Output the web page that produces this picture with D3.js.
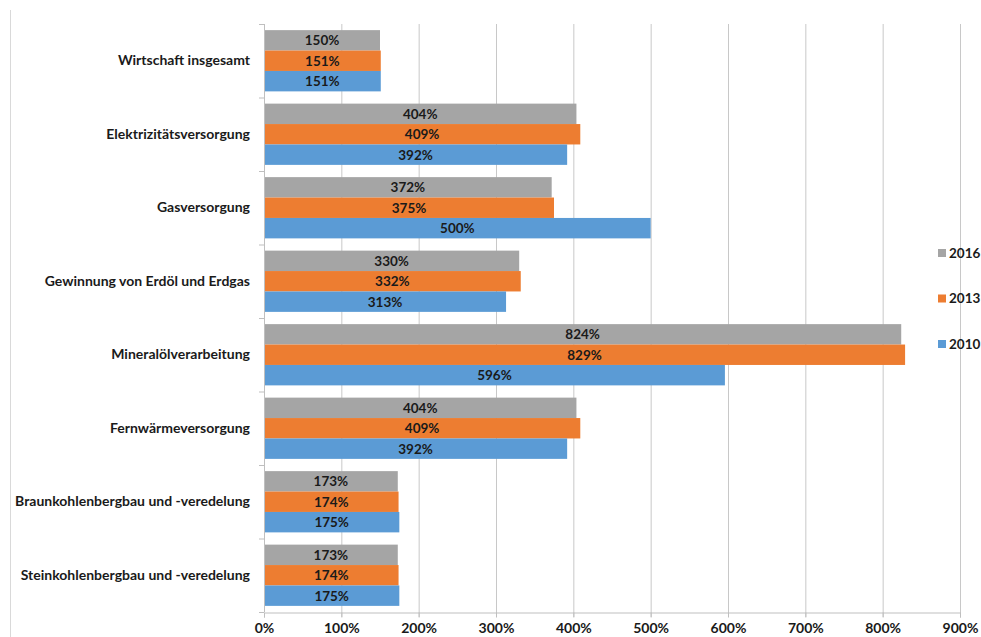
<!DOCTYPE html>
<html>
<head>
<meta charset="utf-8">
<script src="https://cdn.jsdelivr.net/npm/d3@7"></script>
<style>
  body { margin: 0; background: #fff; }
  svg text { font-family: Lato, "Open Sans", sans-serif; font-weight: bold; }
</style>
</head>
<body>
<div id="chart"></div>
<script>
'use strict'
/* Datos */
var categorias = [
  'Wirtschaft insgesamt',
  'Elektrizitätsversorgung',
  'Gasversorgung',
  'Gewinnung von Erdöl und Erdgas',
  'Mineralölverarbeitung',
  'Fernwärmeversorgung',
  'Braunkohlenbergbau und -veredelung',
  'Steinkohlenbergbau und -veredelung'
];
var serie2016 = [150, 404, 372, 330, 824, 404, 173, 173];
var serie2013 = [151, 409, 375, 332, 829, 409, 174, 174];
var serie2010 = [151, 392, 500, 313, 596, 392, 175, 175];
var anios = ['2016', '2013', '2010'];
var colores = ['#A5A5A5', '#ED7D31', '#5B9BD5'];
var ticks = [0, 100, 200, 300, 400, 500, 600, 700, 800, 900];

var w = 981;
var h = 637;
var series = [serie2016, serie2013, serie2010];

var svg = d3.select('#chart')
            .append('svg')
            .attr('width', w)
            .attr('height', h);

// borde izquierdo
svg.append('line')
   .attr('x1', 10.5).attr('x2', 10.5)
   .attr('y1', 10).attr('y2', h)
   .attr('stroke', '#d9d9d9');

var xScale = d3.scaleLinear().domain([0, 900]).range([264, 960]);
var yScale = d3.scaleBand().domain(categorias).range([24, 612]);
var inner = d3.scaleBand().domain(anios).range([0, yScale.bandwidth()]).paddingOuter(0.3);

// lineas de cuadricula
svg.selectAll('line.grid')
   .data(ticks.slice(1))
   .enter()
   .append('line')
   .attr('class', 'grid')
   .attr('x1', (d)=> xScale(d) + 0.5)
   .attr('x2', (d)=> xScale(d) + 0.5)
   .attr('y1', 24)
   .attr('y2', 617)
   .attr('stroke', '#c8c8c8');

// barras
var grupos = svg.selectAll('g.cat')
   .data(categorias)
   .enter()
   .append('g')
   .attr('class', 'cat')
   .attr('transform', (d)=> 'translate(0,' + yScale(d) + ')');

grupos.each(function(cat, i) {
  var g = d3.select(this);
  var filas = anios.map((a, j)=> ({ anio: a, valor: series[j][i], color: colores[j] }));
  g.selectAll('rect')
   .data(filas)
   .enter()
   .append('rect')
   .attr('x', xScale(0))
   .attr('y', (d)=> inner(d.anio))
   .attr('width', (d)=> xScale(d.valor) - xScale(0))
   .attr('height', inner.bandwidth())
   .attr('fill', (d)=> d.color);
  g.selectAll('text')
   .data(filas)
   .enter()
   .append('text')
   .attr('x', (d)=> (xScale(d.valor) + xScale(0)) / 2)
   .attr('y', (d)=> inner(d.anio) + inner.bandwidth() / 2)
   .attr('dy', '0.36em')
   .attr('text-anchor', 'middle')
   .attr('font-size', 13.5)
   .attr('fill', '#1a1a1a')
   .text((d)=> d.valor + '%');
});

// eje de categorias
svg.append('g')
   .attr('transform', 'translate(264,0)')
   .call(d3.axisLeft(yScale).tickSize(0).tickPadding(14))
   .call((g)=> g.select('.domain').remove())
   .selectAll('text')
   .attr('font-size', 14)
   .attr('fill', '#1a1a1a');

svg.append('line')
   .attr('x1', 264.5).attr('x2', 264.5)
   .attr('y1', 24).attr('y2', 612)
   .attr('stroke', '#bfbfbf');
svg.selectAll('line.ytick')
   .data(d3.range(categorias.length + 1))
   .enter()
   .append('line')
   .attr('class', 'ytick')
   .attr('x1', 259).attr('x2', 264)
   .attr('y1', (d)=> 24 + d * yScale.step() + 0.5)
   .attr('y2', (d)=> 24 + d * yScale.step() + 0.5)
   .attr('stroke', '#bfbfbf');

// eje x
var ejeX = svg.append('g')
   .attr('transform', 'translate(0,612.5)')
   .call(d3.axisBottom(xScale).tickValues(ticks).tickSize(5).tickPadding(6).tickFormat((d)=> d + '%'));
ejeX.select('.domain').attr('stroke', '#bfbfbf');
ejeX.selectAll('line').attr('stroke', '#bfbfbf');
ejeX.selectAll('text').attr('font-size', 14).attr('fill', '#1a1a1a');

// leyenda
var leyenda = svg.selectAll('g.ley')
   .data(anios)
   .enter()
   .append('g')
   .attr('class', 'ley')
   .attr('transform', (d, i)=> 'translate(938,' + (253 + i * 45.5) + ')');
leyenda.append('rect')
   .attr('x', 0).attr('y', -4)
   .attr('width', 8).attr('height', 8)
   .attr('fill', (d, i)=> colores[i]);
leyenda.append('text')
   .attr('x', 11)
   .attr('dy', '0.36em')
   .attr('font-size', 13.5)
   .attr('fill', '#1a1a1a')
   .text((d)=> d);
</script>
</body>
</html>
